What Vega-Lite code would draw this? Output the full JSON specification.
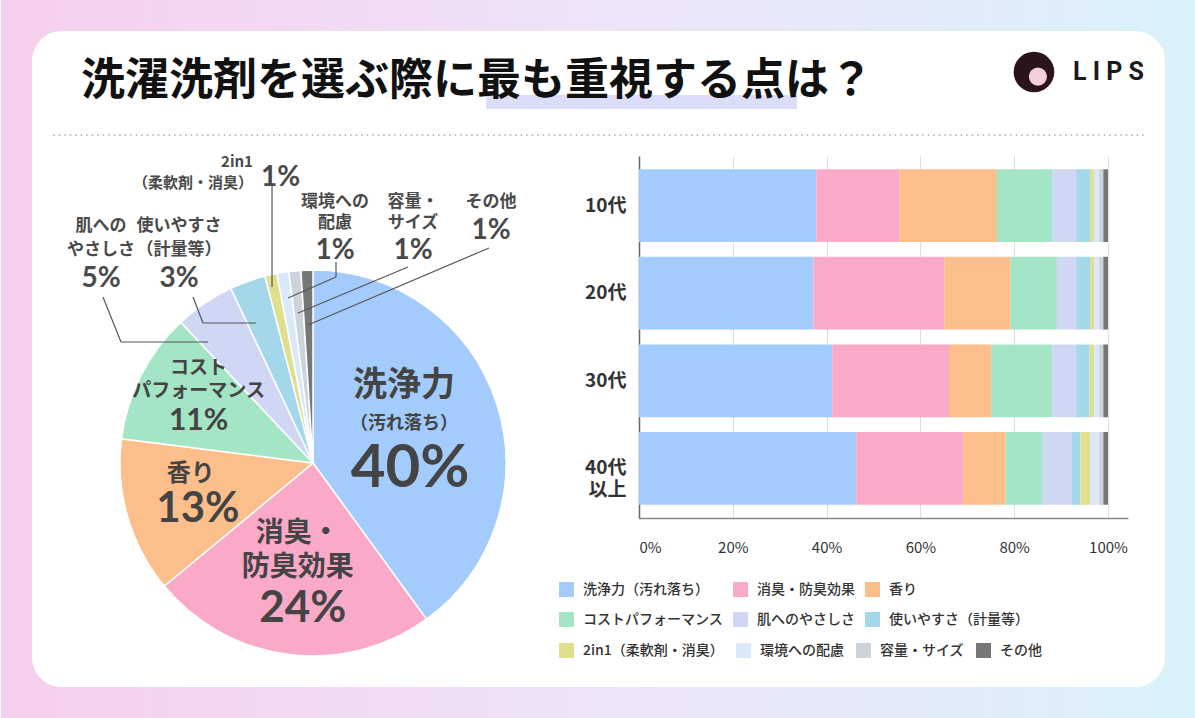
{
  "$schema": "https://vega.github.io/schema/vega-lite/v6.json",
  "padding": 0,
  "background": "#ffffff",
  "bounds": "flush",
  "spacing": 21,
  "config": {
    "font": "Noto Sans CJK JP",
    "view": {"stroke": null}
  },
  "datasets": {
    "pie": [
      {"idx": 1, "cat": "洗浄力（汚れ落ち）", "share": 0.40, "label": "洗浄力", "sub": "（汚れ落ち）"},
      {"idx": 2, "cat": "消臭・防臭効果", "share": 0.24, "label": "消臭・\n防臭効果"},
      {"idx": 3, "cat": "香り", "share": 0.13, "label": "香り"},
      {"idx": 4, "cat": "コストパフォーマンス", "share": 0.11, "label": "コスト\nパフォーマンス"},
      {"idx": 5, "cat": "肌へのやさしさ", "share": 0.05, "label": "肌への\nやさしさ"},
      {"idx": 6, "cat": "使いやすさ（計量等）", "share": 0.03, "label": "使いやすさ\n（計量等）"},
      {"idx": 7, "cat": "2in1（柔軟剤・消臭）", "share": 0.01, "label": "2in1\n（柔軟剤・消臭）"},
      {"idx": 8, "cat": "環境への配慮", "share": 0.01, "label": "環境への\n配慮"},
      {"idx": 9, "cat": "容量・サイズ", "share": 0.01, "label": "容量・\nサイズ"},
      {"idx": 10, "cat": "その他", "share": 0.01, "label": "その他"}
    ],
    "bars": [
      {"age": "10代", "idx": 1, "cat": "洗浄力（汚れ落ち）", "share": 0.378},
      {"age": "10代", "idx": 2, "cat": "消臭・防臭効果", "share": 0.177},
      {"age": "10代", "idx": 3, "cat": "香り", "share": 0.208},
      {"age": "10代", "idx": 4, "cat": "コストパフォーマンス", "share": 0.119},
      {"age": "10代", "idx": 5, "cat": "肌へのやさしさ", "share": 0.050},
      {"age": "10代", "idx": 6, "cat": "使いやすさ（計量等）", "share": 0.030},
      {"age": "10代", "idx": 7, "cat": "2in1（柔軟剤・消臭）", "share": 0.008},
      {"age": "10代", "idx": 8, "cat": "環境への配慮", "share": 0.011},
      {"age": "10代", "idx": 9, "cat": "容量・サイズ", "share": 0.009},
      {"age": "10代", "idx": 10, "cat": "その他", "share": 0.010},
      {"age": "20代", "idx": 1, "cat": "洗浄力（汚れ落ち）", "share": 0.372},
      {"age": "20代", "idx": 2, "cat": "消臭・防臭効果", "share": 0.279},
      {"age": "20代", "idx": 3, "cat": "香り", "share": 0.141},
      {"age": "20代", "idx": 4, "cat": "コストパフォーマンス", "share": 0.099},
      {"age": "20代", "idx": 5, "cat": "肌へのやさしさ", "share": 0.041},
      {"age": "20代", "idx": 6, "cat": "使いやすさ（計量等）", "share": 0.030},
      {"age": "20代", "idx": 7, "cat": "2in1（柔軟剤・消臭）", "share": 0.009},
      {"age": "20代", "idx": 8, "cat": "環境への配慮", "share": 0.010},
      {"age": "20代", "idx": 9, "cat": "容量・サイズ", "share": 0.009},
      {"age": "20代", "idx": 10, "cat": "その他", "share": 0.010},
      {"age": "30代", "idx": 1, "cat": "洗浄力（汚れ落ち）", "share": 0.412},
      {"age": "30代", "idx": 2, "cat": "消臭・防臭効果", "share": 0.249},
      {"age": "30代", "idx": 3, "cat": "香り", "share": 0.090},
      {"age": "30代", "idx": 4, "cat": "コストパフォーマンス", "share": 0.130},
      {"age": "30代", "idx": 5, "cat": "肌へのやさしさ", "share": 0.051},
      {"age": "30代", "idx": 6, "cat": "使いやすさ（計量等）", "share": 0.029},
      {"age": "30代", "idx": 7, "cat": "2in1（柔軟剤・消臭）", "share": 0.010},
      {"age": "30代", "idx": 8, "cat": "環境への配慮", "share": 0.010},
      {"age": "30代", "idx": 9, "cat": "容量・サイズ", "share": 0.009},
      {"age": "30代", "idx": 10, "cat": "その他", "share": 0.010},
      {"age": "40代以上", "idx": 1, "cat": "洗浄力（汚れ落ち）", "share": 0.463},
      {"age": "40代以上", "idx": 2, "cat": "消臭・防臭効果", "share": 0.228},
      {"age": "40代以上", "idx": 3, "cat": "香り", "share": 0.091},
      {"age": "40代以上", "idx": 4, "cat": "コストパフォーマンス", "share": 0.079},
      {"age": "40代以上", "idx": 5, "cat": "肌へのやさしさ", "share": 0.061},
      {"age": "40代以上", "idx": 6, "cat": "使いやすさ（計量等）", "share": 0.019},
      {"age": "40代以上", "idx": 7, "cat": "2in1（柔軟剤・消臭）", "share": 0.021},
      {"age": "40代以上", "idx": 8, "cat": "環境への配慮", "share": 0.019},
      {"age": "40代以上", "idx": 9, "cat": "容量・サイズ", "share": 0.009},
      {"age": "40代以上", "idx": 10, "cat": "その他", "share": 0.010}
    ]
  },
  "vconcat": [
    {
      "width": 1100,
      "height": 80,
      "data": {"values": [{}]},
      "layer": [
        {
          "mark": {
            "type": "rect",
            "color": {
              "gradient": "linear",
              "x1": 0, "y1": 0, "x2": 1, "y2": 0,
              "stops": [
                {"offset": 0, "color": "#F6CFEE"},
                {"offset": 0.5, "color": "#EEE4F8"},
                {"offset": 1, "color": "#DAF2FA"}
              ]
            }
          },
          "encoding": {
            "x": {"datum": -0.04546, "type": "quantitative", "scale": {"domain": [0, 1], "nice": false, "zero": false}, "axis": null},
            "x2": {"datum": 1.04091},
            "y": {"datum": 1.6875, "type": "quantitative", "scale": {"domain": [0, 1], "nice": false, "zero": false}, "axis": null},
            "y2": {"datum": -7.2875}
          }
        },
        {
          "mark": {"type": "rect", "color": "#ffffff", "cornerRadius": 30},
          "encoding": {
            "x": {"datum": -0.01727, "type": "quantitative"},
            "x2": {"datum": 1.01273},
            "y": {"datum": 1.3, "type": "quantitative"},
            "y2": {"datum": -6.9}
          }
        },
        {
          "mark": {"type": "rule", "color": "#A8A8A8", "strokeWidth": 1.5, "strokeDash": [1.5, 4]},
          "encoding": {
            "x": {"datum": 0.002, "type": "quantitative"},
            "x2": {"datum": 0.994},
            "y": {"datum": 0, "type": "quantitative"}
          }
        },
        {
          "mark": {"type": "rect", "color": "#DCDDF9"},
          "encoding": {
            "x": {"datum": 0.3955, "type": "quantitative"},
            "x2": {"datum": 0.6782},
            "y": {"datum": 0.5, "type": "quantitative"},
            "y2": {"datum": 0.325}
          }
        },
        {
          "mark": {
            "type": "text",
            "text": "洗濯洗剤を選ぶ際に最も重視する点は？",
            "align": "left",
            "baseline": "middle",
            "fontSize": 44,
            "fontWeight": "bold",
            "color": "#111111"
          },
          "encoding": {
            "x": {"datum": 0.0273, "type": "quantitative"},
            "y": {"datum": 0.6625, "type": "quantitative"}
          }
        },
        {
          "mark": {"type": "point", "shape": "circle", "filled": true, "size": 1650, "color": "#2B1419", "opacity": 1},
          "encoding": {
            "x": {"datum": 0.8936, "type": "quantitative"},
            "y": {"datum": 0.7875, "type": "quantitative"}
          }
        },
        {
          "mark": {"type": "point", "shape": "circle", "filled": true, "size": 330, "color": "#F4CFDA", "opacity": 1},
          "encoding": {
            "x": {"datum": 0.8972, "type": "quantitative"},
            "y": {"datum": 0.73, "type": "quantitative"}
          }
        },
        {
          "mark": {
            "type": "text",
            "text": "L I P S",
            "align": "left",
            "baseline": "middle",
            "font": "Roboto",
            "fontSize": 25,
            "fontWeight": "bold",
            "color": "#1A1A1A"
          },
          "encoding": {
            "x": {"datum": 0.9291, "type": "quantitative"},
            "y": {"datum": 0.7875, "type": "quantitative"}
          }
        }
      ]
    },
    {
      "spacing": -16,
      "resolve": {"scale": {"color": "independent", "fill": "independent"}, "legend": {"color": "independent", "fill": "independent"}},
      "hconcat": [
        {
          "width": 524,
          "height": 386,
          "data": {"name": "pie"},
          "resolve": {"scale": {"x": "independent", "y": "independent"}},
          "layer": [
            {
              "mark": {"type": "arc", "stroke": "#ffffff", "strokeWidth": 1.5, "yOffset": 114},
              "encoding": {
                "theta": {"field": "share", "type": "quantitative", "stack": true},
                "order": {"field": "idx", "type": "quantitative", "sort": "ascending"},
                "color": {
                  "field": "cat",
                  "type": "nominal",
                  "scale": {
                    "domain": ["洗浄力（汚れ落ち）", "消臭・防臭効果", "香り", "コストパフォーマンス", "肌へのやさしさ", "使いやすさ（計量等）", "2in1（柔軟剤・消臭）", "環境への配慮", "容量・サイズ", "その他"],
                    "range": ["#A3CBFB", "#FBA9C8", "#FCBF8C", "#A4E5C5", "#CFD7F5", "#A5D7EA", "#E0DF8E", "#D9E8FB", "#CCD3DB", "#777777"]
                  },
                  "legend": null
                }
              }
            },
            {
              "mark": {"type": "text", "yOffset": 114, "radius": 100, "dx": -4, "dy": -46, "fontSize": 34, "fontWeight": "bold", "color": "#444444"},
              "encoding": {
                "theta": {"field": "share", "type": "quantitative", "stack": true},
                "order": {"field": "idx", "type": "quantitative", "sort": "ascending"},
                "text": {"condition": {"test": "datum.idx === 1", "field": "label", "type": "nominal"}, "value": ""}
              }
            },
            {
              "mark": {"type": "text", "yOffset": 114, "radius": 100, "dx": -4, "dy": -8, "fontSize": 18, "fontWeight": "bold", "color": "#444444"},
              "encoding": {
                "theta": {"field": "share", "type": "quantitative", "stack": true},
                "order": {"field": "idx", "type": "quantitative", "sort": "ascending"},
                "text": {"condition": {"test": "datum.idx === 1", "field": "sub", "type": "nominal"}, "value": ""}
              }
            },
            {
              "mark": {"type": "text", "yOffset": 114, "radius": 100, "dx": 2, "dy": 37, "font": "Lato", "fontSize": 60, "fontWeight": "bold", "color": "#444444"},
              "encoding": {
                "theta": {"field": "share", "type": "quantitative", "stack": true},
                "order": {"field": "idx", "type": "quantitative", "sort": "ascending"},
                "text": {"condition": {"test": "datum.idx === 1", "field": "share", "type": "quantitative", "format": ".0%"}, "value": ""}
              }
            },
            {
              "mark": {"type": "text", "yOffset": 114, "radius": 106, "dx": -2, "dy": -34, "fontSize": 28, "fontWeight": "bold", "lineBreak": "\n", "lineHeight": 34, "color": "#444444"},
              "encoding": {
                "theta": {"field": "share", "type": "quantitative", "stack": true},
                "order": {"field": "idx", "type": "quantitative", "sort": "ascending"},
                "text": {"condition": {"test": "datum.idx === 2", "field": "label", "type": "nominal"}, "value": ""}
              }
            },
            {
              "mark": {"type": "text", "yOffset": 114, "radius": 106, "dx": 3, "dy": 41, "font": "Lato", "fontSize": 44, "fontWeight": "bold", "color": "#444444"},
              "encoding": {
                "theta": {"field": "share", "type": "quantitative", "stack": true},
                "order": {"field": "idx", "type": "quantitative", "sort": "ascending"},
                "text": {"condition": {"test": "datum.idx === 2", "field": "share", "type": "quantitative", "format": ".0%"}, "value": ""}
              }
            },
            {
              "mark": {"type": "text", "yOffset": 114, "radius": 122, "dx": -5, "dy": -23, "fontSize": 24, "fontWeight": "bold", "color": "#444444"},
              "encoding": {
                "theta": {"field": "share", "type": "quantitative", "stack": true},
                "order": {"field": "idx", "type": "quantitative", "sort": "ascending"},
                "text": {"condition": {"test": "datum.idx === 3", "field": "label", "type": "nominal"}, "value": ""}
              }
            },
            {
              "mark": {"type": "text", "yOffset": 114, "radius": 122, "dx": 2, "dy": 12, "font": "Lato", "fontSize": 42, "fontWeight": "bold", "color": "#444444"},
              "encoding": {
                "theta": {"field": "share", "type": "quantitative", "stack": true},
                "order": {"field": "idx", "type": "quantitative", "sort": "ascending"},
                "text": {"condition": {"test": "datum.idx === 3", "field": "share", "type": "quantitative", "format": ".0%"}, "value": ""}
              }
            },
            {
              "mark": {"type": "text", "yOffset": 114, "radius": 134, "dx": 5, "dy": -34, "fontSize": 19, "fontWeight": "bold", "lineBreak": "\n", "lineHeight": 23, "color": "#444444"},
              "encoding": {
                "theta": {"field": "share", "type": "quantitative", "stack": true},
                "order": {"field": "idx", "type": "quantitative", "sort": "ascending"},
                "text": {"condition": {"test": "datum.idx === 4", "field": "label", "type": "nominal"}, "value": ""}
              }
            },
            {
              "mark": {"type": "text", "yOffset": 114, "radius": 134, "dx": 5, "dy": 19, "font": "Lato", "fontSize": 30, "fontWeight": "bold", "color": "#444444"},
              "encoding": {
                "theta": {"field": "share", "type": "quantitative", "stack": true},
                "order": {"field": "idx", "type": "quantitative", "sort": "ascending"},
                "text": {"condition": {"test": "datum.idx === 4", "field": "share", "type": "quantitative", "format": ".0%"}, "value": ""}
              }
            },
            {
              "layer": [
                {
                  "transform": [{"filter": "datum.idx === 5 || datum.idx === 6"}],
                  "mark": {"type": "text", "yOffset": 114, "dy": -237, "fontSize": 17, "fontWeight": "bold", "lineBreak": "\n", "lineHeight": 24, "color": "#4A4A4A"},
                  "encoding": {
                    "x": {
                      "field": "cat",
                      "type": "nominal",
                      "scale": {
                        "type": "point",
                        "domain": ["肌へのやさしさ", "使いやすさ（計量等）", "2in1（柔軟剤・消臭）", "環境への配慮", "容量・サイズ", "その他"],
                        "padding": 0.859,
                        "align": 0.373
                      },
                      "axis": null
                    },
                    "text": {"field": "label", "type": "nominal"}
                  }
                },
                {
                  "transform": [{"filter": "datum.idx === 5 || datum.idx === 6"}],
                  "mark": {"type": "text", "yOffset": 114, "dy": -184, "font": "Lato", "fontSize": 28, "fontWeight": "bold", "color": "#4A4A4A"},
                  "encoding": {
                    "x": {"field": "cat", "type": "nominal"},
                    "text": {"field": "share", "type": "quantitative", "format": ".0%"}
                  }
                },
                {
                  "transform": [{"filter": "datum.idx === 7"}],
                  "mark": {"type": "text", "yOffset": 114, "align": "right", "dx": -4, "dy": -301, "fontSize": 15, "fontWeight": "bold", "lineBreak": "\n", "lineHeight": 21, "color": "#4A4A4A"},
                  "encoding": {
                    "x": {"field": "cat", "type": "nominal"},
                    "text": {"field": "label", "type": "nominal"}
                  }
                },
                {
                  "transform": [{"filter": "datum.idx === 7"}],
                  "mark": {"type": "text", "yOffset": 114, "align": "left", "dx": 4, "dy": -285, "font": "Lato", "fontSize": 28, "fontWeight": "bold", "color": "#4A4A4A"},
                  "encoding": {
                    "x": {"field": "cat", "type": "nominal"},
                    "text": {"field": "share", "type": "quantitative", "format": ".0%"}
                  }
                },
                {
                  "transform": [{"filter": "datum.idx === 8 || datum.idx === 9"}],
                  "mark": {"type": "text", "yOffset": 114, "dy": -261, "fontSize": 17, "fontWeight": "bold", "lineBreak": "\n", "lineHeight": 21, "color": "#4A4A4A"},
                  "encoding": {
                    "x": {"field": "cat", "type": "nominal"},
                    "text": {"field": "label", "type": "nominal"}
                  }
                },
                {
                  "transform": [{"filter": "datum.idx === 8 || datum.idx === 9"}],
                  "mark": {"type": "text", "yOffset": 114, "dy": -212, "font": "Lato", "fontSize": 28, "fontWeight": "bold", "color": "#4A4A4A"},
                  "encoding": {
                    "x": {"field": "cat", "type": "nominal"},
                    "text": {"field": "share", "type": "quantitative", "format": ".0%"}
                  }
                },
                {
                  "transform": [{"filter": "datum.idx === 10"}],
                  "mark": {"type": "text", "yOffset": 114, "dy": -261, "fontSize": 17, "fontWeight": "bold", "color": "#4A4A4A"},
                  "encoding": {
                    "x": {"field": "cat", "type": "nominal"},
                    "text": {"field": "label", "type": "nominal"}
                  }
                },
                {
                  "transform": [{"filter": "datum.idx === 10"}],
                  "mark": {"type": "text", "yOffset": 114, "dy": -232, "font": "Lato", "fontSize": 28, "fontWeight": "bold", "color": "#4A4A4A"},
                  "encoding": {
                    "x": {"field": "cat", "type": "nominal"},
                    "text": {"field": "share", "type": "quantitative", "format": ".0%"}
                  }
                }
              ]
            },
            {
              "data": {"values": [{}]},
              "layer": [
                {
                  "mark": {"type": "rule", "color": "#555555", "strokeWidth": 1.2},
                  "encoding": {
                    "x": {"datum": 0.0992, "type": "quantitative", "scale": {"domain": [0, 1], "nice": false, "zero": false}, "axis": null},
                    "x2": {"datum": 0.1336},
                    "y": {"datum": 0.6347, "type": "quantitative", "scale": {"domain": [0, 1], "nice": false, "zero": false}, "axis": null},
                    "y2": {"datum": 0.5181}
                  }
                },
                {
                  "mark": {"type": "rule", "color": "#555555", "strokeWidth": 1.2},
                  "encoding": {
                    "x": {"datum": 0.1336, "type": "quantitative"},
                    "x2": {"datum": 0.2996},
                    "y": {"datum": 0.5181, "type": "quantitative"},
                    "y2": {"datum": 0.5181}
                  }
                },
                {
                  "mark": {"type": "rule", "color": "#555555", "strokeWidth": 1.2},
                  "encoding": {
                    "x": {"datum": 0.2710, "type": "quantitative"},
                    "x2": {"datum": 0.2901},
                    "y": {"datum": 0.6347, "type": "quantitative"},
                    "y2": {"datum": 0.5674}
                  }
                },
                {
                  "mark": {"type": "rule", "color": "#555555", "strokeWidth": 1.2},
                  "encoding": {
                    "x": {"datum": 0.2901, "type": "quantitative"},
                    "x2": {"datum": 0.3912},
                    "y": {"datum": 0.5674, "type": "quantitative"},
                    "y2": {"datum": 0.5674}
                  }
                },
                {
                  "mark": {"type": "rule", "color": "#555555", "strokeWidth": 1.2},
                  "encoding": {
                    "x": {"datum": 0.4218, "type": "quantitative"},
                    "x2": {"datum": 0.4218},
                    "y": {"datum": 0.9249, "type": "quantitative"},
                    "y2": {"datum": 0.6606}
                  }
                },
                {
                  "mark": {"type": "rule", "color": "#555555", "strokeWidth": 1.2},
                  "encoding": {
                    "x": {"datum": 0.5439, "type": "quantitative"},
                    "x2": {"datum": 0.5439},
                    "y": {"datum": 0.7254, "type": "quantitative"},
                    "y2": {"datum": 0.6865}
                  }
                },
                {
                  "mark": {"type": "rule", "color": "#555555", "strokeWidth": 1.2},
                  "encoding": {
                    "x": {"datum": 0.5439, "type": "quantitative"},
                    "x2": {"datum": 0.4523},
                    "y": {"datum": 0.6865, "type": "quantitative"},
                    "y2": {"datum": 0.6321}
                  }
                },
                {
                  "mark": {"type": "rule", "color": "#555555", "strokeWidth": 1.2},
                  "encoding": {
                    "x": {"datum": 0.6813, "type": "quantitative"},
                    "x2": {"datum": 0.4714},
                    "y": {"datum": 0.7124, "type": "quantitative"},
                    "y2": {"datum": 0.5933}
                  }
                },
                {
                  "mark": {"type": "rule", "color": "#555555", "strokeWidth": 1.2},
                  "encoding": {
                    "x": {"datum": 0.8359, "type": "quantitative"},
                    "x2": {"datum": 0.4905},
                    "y": {"datum": 0.7617, "type": "quantitative"},
                    "y2": {"datum": 0.5622}
                  }
                }
              ]
            }
          ]
        },
        {
          "width": 489,
          "height": 362,
          "data": {"name": "bars"},
          "layer": [
            {
              "mark": {"type": "bar"},
              "encoding": {
                "y": {
                  "field": "age",
                  "type": "nominal",
                  "sort": ["10代", "20代", "30代", "40代以上"],
                  "scale": {"paddingInner": 0.17, "paddingOuter": 0.15},
                  "axis": {
                    "title": null,
                    "domain": true,
                    "domainColor": "#666666",
                    "domainWidth": 1.5,
                    "ticks": false,
                    "tickSize": 0,
                    "labelFontSize": 19,
                    "labelFontWeight": "bold",
                    "labelColor": "#333333",
                    "labelPadding": 13,
                    "labelLineHeight": 22,
                    "labelExpr": "datum.value === '40代以上' ? ['40代', '以上'] : datum.value"
                  }
                },
                "x": {
                  "field": "share",
                  "type": "quantitative",
                  "stack": true,
                  "scale": {"domain": [0, 1.04264], "nice": false},
                  "axis": {
                    "title": null,
                    "values": [0, 0.2, 0.4, 0.6, 0.8, 1],
                    "format": ".0%",
                    "grid": true,
                    "gridColor": "#DDDDDD",
                    "domainColor": "#888888",
                    "domainWidth": 1.5,
                    "ticks": false,
                    "tickSize": 0,
                    "labelFontSize": 15,
                    "labelColor": "#333333",
                    "labelPadding": 22,
                    "labelDx": 4
                  }
                },
                "color": {
                  "field": "cat",
                  "type": "nominal",
                  "scale": {
                    "domain": ["洗浄力（汚れ落ち）", "消臭・防臭効果", "香り", "コストパフォーマンス", "肌へのやさしさ", "使いやすさ（計量等）", "2in1（柔軟剤・消臭）", "環境への配慮", "容量・サイズ", "その他"],
                    "range": ["#A3CBFB", "#FBA9C8", "#FCBF8C", "#A4E5C5", "#CFD7F5", "#A5D7EA", "#E0DF8E", "#D9E8FB", "#CCD3DB", "#777777"]
                  },
                  "legend": {
                    "title": null,
                    "values": ["洗浄力（汚れ落ち）", "消臭・防臭効果", "香り", "コストパフォーマンス", "肌へのやさしさ", "使いやすさ（計量等）"],
                    "orient": "none",
                    "direction": "horizontal",
                    "legendX": -80,
                    "legendY": 426,
                    "columns": 3,
                    "gridAlign": "none",
                    "columnPadding": 10,
                    "rowPadding": 15,
                    "symbolType": "square",
                    "symbolSize": 225,
                    "symbolStrokeWidth": 0,
                    "labelFontSize": 14,
                    "labelFontWeight": 500,
                    "labelColor": "#333333",
                    "labelOffset": 9,
                    "padding": 0
                  }
                },
                "order": {"field": "idx", "type": "quantitative", "sort": "ascending"}
              }
            },
            {
              "transform": [{"filter": "datum.idx >= 7 && datum.age === '10代'"}],
              "mark": {"type": "text", "text": ""},
              "encoding": {
                "fill": {
                  "field": "cat",
                  "type": "nominal",
                  "scale": {
                    "domain": ["2in1（柔軟剤・消臭）", "環境への配慮", "容量・サイズ", "その他"],
                    "range": ["#E0DF8E", "#D9E8FB", "#CCD3DB", "#777777"]
                  },
                  "legend": {
                    "title": null,
                    "orient": "none",
                    "direction": "horizontal",
                    "legendX": -80,
                    "legendY": 487,
                    "columns": 4,
                    "gridAlign": "none",
                    "columnPadding": 12,
                    "symbolType": "square",
                    "symbolSize": 225,
                    "symbolStrokeWidth": 0,
                    "labelFontSize": 14,
                    "labelFontWeight": 500,
                    "labelColor": "#333333",
                    "labelOffset": 9,
                    "padding": 0
                  }
                }
              }
            }
          ]
        }
      ]
    }
  ]
}
